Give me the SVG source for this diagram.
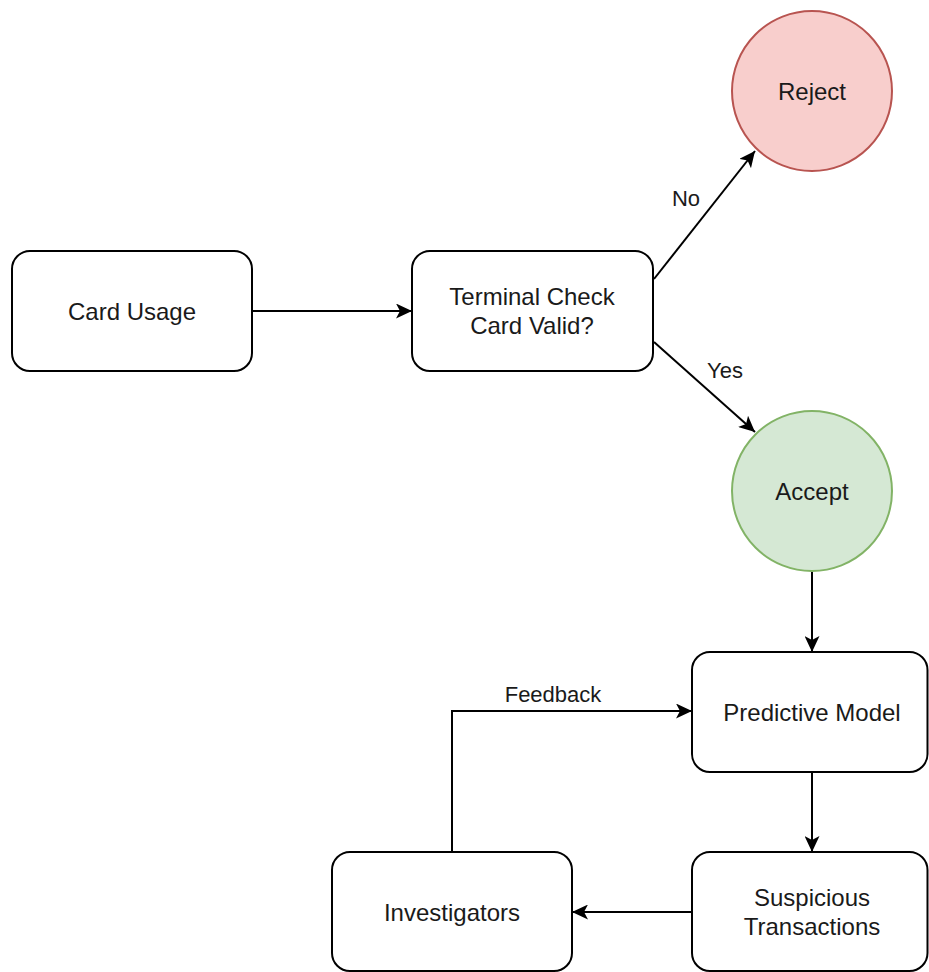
<svg xmlns="http://www.w3.org/2000/svg" width="929" height="972" viewBox="0 0 929 972">
  <style>
    .box { fill: #ffffff; stroke: #000000; stroke-width: 2; }
    .reject { fill: #f8cecc; stroke: #b85450; stroke-width: 2; }
    .accept { fill: #d5e8d4; stroke: #82b366; stroke-width: 2; }
    .node-text { font-family: "Liberation Sans", Arial, sans-serif; font-size: 24px; fill: #1a1a1a; text-anchor: middle; }
    .edge-label { font-family: "Liberation Sans", Arial, sans-serif; font-size: 22px; fill: #1a1a1a; text-anchor: middle; }
    .edge { fill: none; stroke: #000000; stroke-width: 2; marker-end: url(#arrow); }
  </style>
  <defs>
    <marker id="arrow" markerUnits="userSpaceOnUse" markerWidth="16" markerHeight="15" viewBox="0 0 16 15" refX="16" refY="7.5" orient="auto">
      <path d="M0,0 L16,7.5 L0,15 L4,7.5 Z" fill="#000000"/>
    </marker>
  </defs>
  <rect width="929" height="972" fill="#ffffff"/>

  <!-- connectors -->
  <g id="connectors">
    <path class="edge" d="M252,311 L412,311"/>
    <path class="edge" d="M654,279 L755,151"/>
    <path class="edge" d="M654,342 L755,432"/>
    <path class="edge" d="M812,572 L812,652"/>
    <path class="edge" d="M812,772 L812,852"/>
    <path class="edge" d="M692,912 L572,912"/>
    <path class="edge" d="M452,852 L452,711 L692,711"/>
    <text class="edge-label" x="686" y="206">No</text>
    <text class="edge-label" x="725" y="378">Yes</text>
    <text class="edge-label" x="553" y="702">Feedback</text>
  </g>

  <g id="card-usage">
    <rect class="box" x="12" y="251" width="240" height="120" rx="18" ry="18"/>
    <text class="node-text" x="132" y="320">Card Usage</text>
  </g>

  <g id="terminal-check">
    <rect class="box" x="412" y="251" width="241" height="120" rx="18" ry="18"/>
    <text class="node-text" x="532" y="305">Terminal Check</text>
    <text class="node-text" x="532" y="334">Card Valid?</text>
  </g>

  <g id="reject">
    <circle class="reject" cx="812" cy="91" r="80"/>
    <text class="node-text" x="812" y="100">Reject</text>
  </g>

  <g id="accept">
    <circle class="accept" cx="812" cy="491" r="80"/>
    <text class="node-text" x="812" y="500">Accept</text>
  </g>

  <g id="predictive-model">
    <rect class="box" x="692" y="652" width="235.5" height="120" rx="18" ry="18"/>
    <text class="node-text" x="812" y="721">Predictive Model</text>
  </g>

  <g id="suspicious-transactions">
    <rect class="box" x="692" y="852" width="235.5" height="119" rx="18" ry="18"/>
    <text class="node-text" x="812" y="906">Suspicious</text>
    <text class="node-text" x="812" y="935">Transactions</text>
  </g>

  <g id="investigators">
    <rect class="box" x="332" y="852" width="240" height="119" rx="18" ry="18"/>
    <text class="node-text" x="452" y="921">Investigators</text>
  </g>
</svg>
